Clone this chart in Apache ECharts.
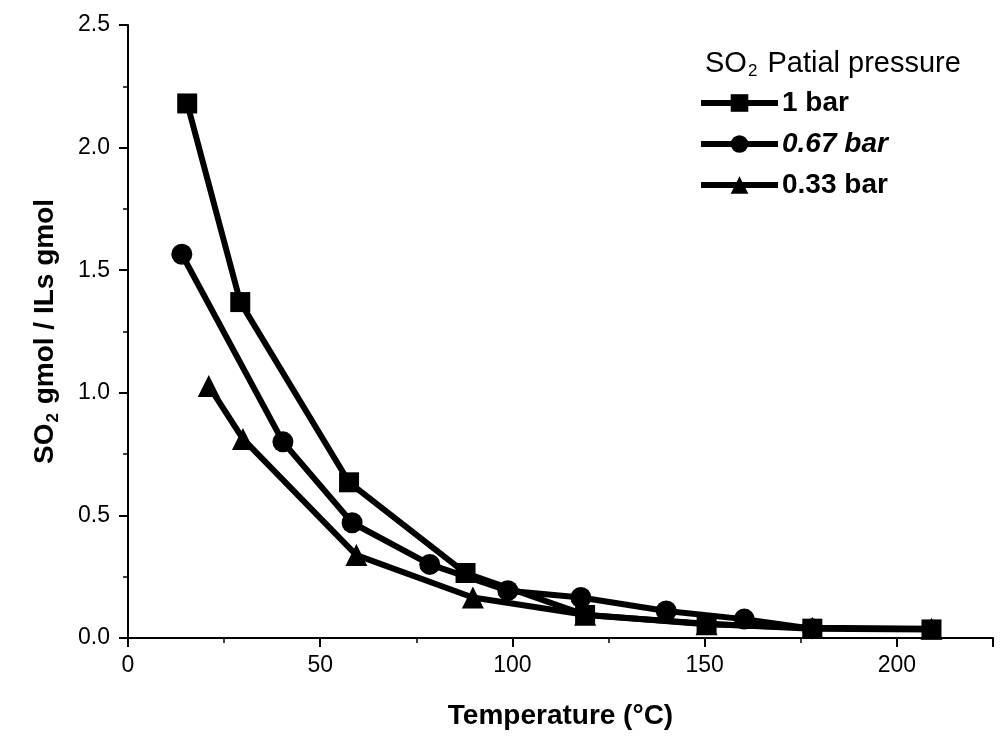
<!DOCTYPE html>
<html>
<head>
<meta charset="utf-8">
<script src="https://cdn.jsdelivr.net/npm/echarts@6/dist/echarts.min.js"></script>
<style>html,body{margin:0;padding:0;background:#fff}#c{width:1001px;height:738px}</style>
</head>
<body>
<div id="c"></div>
<script>
const seriesNames = ['1 bar', '0.67 bar', '0.33 bar'];
const temp1 = [15.4, 29.2, 57.5, 87.8, 118.9, 150.5, 178, 209];
const val1  = [2.18, 1.37, 0.635, 0.265, 0.094, 0.058, 0.038, 0.035];
const temp2 = [14, 40.3, 58.3, 78.5, 98.8, 117.8, 140, 160.3, 178];
const val2  = [1.565, 0.80, 0.47, 0.30, 0.193, 0.165, 0.11, 0.077, 0.038];
const temp3 = [21, 29.9, 59.4, 89.7, 118.9, 150.5, 178, 209];
const val3  = [1.028, 0.812, 0.338, 0.165, 0.095, 0.056, 0.042, 0.038];
const xTicks = [0, 50, 100, 150, 200];
const yTicks = [0.0, 0.5, 1.0, 1.5, 2.0, 2.5];

const pairs = (xs, ys) => xs.map((x, i) => [x, ys[i]]);
const font = 'Liberation Sans, Arial, sans-serif';
const chart = echarts.init(document.getElementById('c'));
const mk = (name, data, symbol, size) => ({
  name, type: 'line', data, symbol, symbolSize: size,
  lineStyle: { color: '#000', width: 6 },
  itemStyle: { color: '#000' },
  showSymbol: true, animation: false, z: 3
});
chart.setOption({
  backgroundColor: '#fff',
  animation: false,
  title: {
    text: '{n|SO}{s|2}{n| Patial pressure}',
    left: 700, top: 42,
    textStyle: {
      fontWeight: 'normal',
      rich: {
        n: { fontFamily: font, fontSize: 29, fontWeight: 'normal', color: '#000' },
        s: { fontFamily: font, fontSize: 17, fontWeight: 'normal', color: '#000', verticalAlign: 'bottom', padding: [16, 2, 0, 1] }
      }
    }
  },
  legend: {
    orient: 'vertical', left: 693, top: 84,
    itemWidth: 77, itemHeight: 22, itemGap: 13,
    lineStyle: { width: 6, color: '#000' },
    textStyle: { fontFamily: font, fontSize: 28, fontWeight: 'bold', color: '#000', padding: [0, 0, 0, -1] },
    data: [
      { name: '1 bar' },
      { name: '0.67 bar', textStyle: { fontStyle: 'italic' } },
      { name: '0.33 bar' }
    ]
  },
  grid: { left: 128, right: 8, top: 25, bottom: 100 },
  xAxis: {
    type: 'value', min: 0, max: 225, interval: 50,
    name: 'Temperature (°C)', nameLocation: 'middle', nameGap: 64,
    nameTextStyle: { fontFamily: font, fontSize: 28, fontWeight: 'bold', color: '#000' },
    axisLine: { lineStyle: { color: '#000', width: 2 } },
    axisTick: { show: true, length: 9, lineStyle: { color: '#000', width: 2 } },
    minorTick: { show: true, splitNumber: 2, length: 5, lineStyle: { color: '#000', width: 1.5 } },
    axisLabel: { fontFamily: font, fontSize: 23, color: '#000', margin: 16, showMaxLabel: false,
      formatter: v => xTicks.includes(v) ? String(v) : '' },
    splitLine: { show: false }
  },
  yAxis: {
    type: 'value', min: 0, max: 2.5, interval: 0.5,
    name: '{b|SO}{s|2}{b| gmol / ILs gmol}', nameLocation: 'middle', nameGap: 66, nameRotate: 90,
    nameTextStyle: {
      rich: {
        b: { fontFamily: font, fontSize: 28, fontWeight: 'bold', color: '#000' },
        s: { fontFamily: font, fontSize: 17, fontWeight: 'bold', color: '#000', verticalAlign: 'bottom', padding: [16, 1, 0, 1] }
      }
    },
    axisLine: { show: true, lineStyle: { color: '#000', width: 2 } },
    axisTick: { show: true, length: 9, lineStyle: { color: '#000', width: 2 } },
    minorTick: { show: true, splitNumber: 2, length: 5, lineStyle: { color: '#000', width: 1.5 } },
    axisLabel: { fontFamily: font, fontSize: 23, color: '#000', margin: 18,
      formatter: v => yTicks.some(t => Math.abs(t - v) < 1e-9) ? v.toFixed(1) : '' },
    splitLine: { show: false }
  },
  series: [
    mk(seriesNames[0], pairs(temp1, val1), 'rect', 20),
    mk(seriesNames[1], pairs(temp2, val2), 'circle', 21),
    mk(seriesNames[2], pairs(temp3, val3), 'triangle', 22)
  ]
});
</script>
</body>
</html>
